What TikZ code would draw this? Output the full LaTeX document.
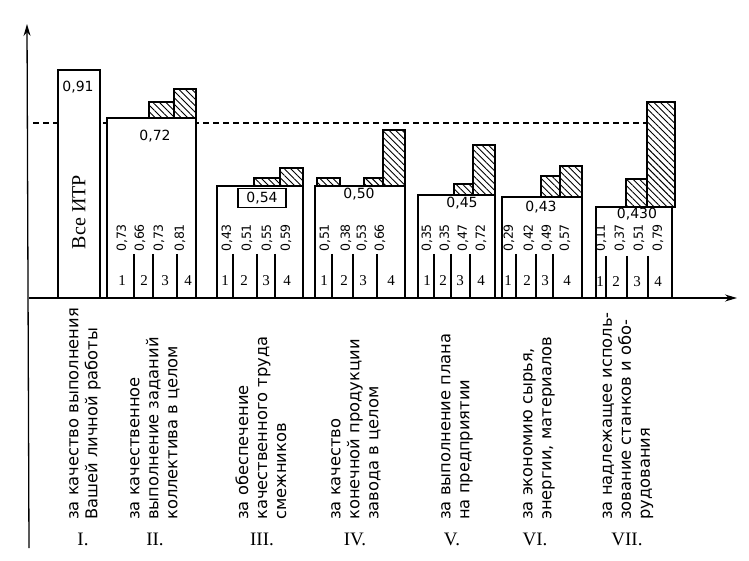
\documentclass[tikz,border=0pt]{standalone}
\usepackage{fontspec}
\setmainfont{Liberation Serif}
\setsansfont{DejaVu Sans}
\usetikzlibrary{arrows.meta,patterns.meta}

\begin{document}
\begin{tikzpicture}[x=1pt,y=-1pt,
  barbox/.style={draw=black,fill=white,line width=1.3pt},
  hatchbox/.style={draw=black,line width=1.3pt,preaction={fill=white},
                   pattern={Lines[angle=-45,distance=4.6pt,line width=0.9pt]}},
  subline/.style={draw=black,line width=1.3pt},
  axisline/.style={draw=black,line width=1.3pt,-{Stealth[length=12pt,width=7pt]}},
  mainval/.style={font=\sffamily\fontsize{14}{16}\selectfont,inner sep=1pt},
  subval/.style={font=\sffamily\fontsize{12.5}{14}\selectfont,rotate=90,inner sep=1pt},
  subnum/.style={font=\fontsize{15}{17}\selectfont,inner sep=1pt},
  catlabel/.style={font=\sffamily\fontsize{16.3}{19}\selectfont,rotate=90,
                   anchor=west,align=left,inner sep=0pt},
  roman/.style={font=\fontsize{19}{21}\selectfont,inner sep=1pt}
]
\useasboundingbox (0,0) rectangle (749,561);

% ---- Axes and reference level -------------------------------
\coordinate (o) at (29,298);
\coordinate (ybot) at (29,548);
\coordinate (ytop) at (27,24);
\coordinate (xend) at (737,298);
\coordinate (lvlL) at (33,123);
\coordinate (lvlR) at (648,123);
\draw[line width=1.2pt,dash pattern=on 6pt off 4pt] (lvlL) -- (lvlR);
\draw[axisline] (ybot) -- (ytop);
\draw[axisline] (o) -- (xend);

% ---- I: all engineers ---------------------------------------
\draw[barbox] (58,298) rectangle (100,70);
\node[mainval] (m1) at (78,87) {0,91};
\node[font=\fontsize{20}{22}\selectfont,rotate=90] (itr) at (79,212) {Все ИТР};

% ---- II -----------------------------------------------------
\draw[barbox] (107,298) rectangle (196,118);
\draw[hatchbox] (149,118) rectangle (174,102);
\draw[hatchbox] (174,118) rectangle (196,89);
\node[mainval] (m2) at (155,136) {0,72};
\foreach \x in {134,153,177} \draw[subline] (\x,254) -- (\x,298);
\foreach \v/\x [count=\i] in {0{,}73/122,0{,}66/140,0{,}73/159,0{,}81/180}
  \node[subval] (s2-\i) at (\x,238) {\v};
\foreach \x [count=\i] in {122,144,165,188}
  \node[subnum] (n2-\i) at (\x,281) {\i};

% ---- III ----------------------------------------------------
\draw[barbox] (217,298) rectangle (303,186);
\draw[hatchbox] (254,186) rectangle (280,178);
\draw[hatchbox] (280,186) rectangle (303,168);
\node[mainval,draw=black,line width=1.3pt,minimum width=48pt,minimum height=19pt]
  (m3) at (262,198) {0,54};
\foreach \x in {233,257,275} \draw[subline] (\x,254) -- (\x,298);
\foreach \v/\x [count=\i] in {0{,}43/227,0{,}51/247,0{,}55/267,0{,}59/286}
  \node[subval] (s3-\i) at (\x,238) {\v};
\foreach \x [count=\i] in {225,244,266,287}
  \node[subnum] (n3-\i) at (\x,281) {\i};

% ---- IV -----------------------------------------------------
\draw[barbox] (315,298) rectangle (405,186);
\draw[hatchbox] (317,186) rectangle (340,178);
\draw[hatchbox] (364,186) rectangle (383,178);
\draw[hatchbox] (383,186) rectangle (405,130);
\node[mainval] (m4) at (359,194) {0,50};
\foreach \x in {332,353,377} \draw[subline] (\x,254) -- (\x,298);
\foreach \v/\x [count=\i] in {0{,}51/325,0{,}38/346,0{,}53/362,0{,}66/380}
  \node[subval] (s4-\i) at (\x,238) {\v};
\foreach \x [count=\i] in {324,344,363,391}
  \node[subnum] (n4-\i) at (\x,281) {\i};

% ---- V ------------------------------------------------------
\draw[barbox] (418,298) rectangle (495,195);
\draw[hatchbox] (454,195) rectangle (473,184);
\draw[hatchbox] (473,195) rectangle (495,145);
\node[mainval] (m5) at (462,203) {0,45};
\foreach \x in {434,451,470} \draw[subline] (\x,254) -- (\x,298);
\foreach \v/\x [count=\i] in {0{,}35/427,0{,}35/445,0{,}47/463,0{,}72/481}
  \node[subval] (s5-\i) at (\x,238) {\v};
\foreach \x [count=\i] in {427,443,460,481}
  \node[subnum] (n5-\i) at (\x,281) {\i};

% ---- VI -----------------------------------------------------
\draw[barbox] (502,298) rectangle (582,197);
\draw[hatchbox] (541,197) rectangle (560,176);
\draw[hatchbox] (560,197) rectangle (582,166);
\node[mainval] (m6) at (541,207) {0,43};
\foreach \x in {516,536,553} \draw[subline] (\x,254) -- (\x,298);
\foreach \v/\x [count=\i] in {0{,}29/509,0{,}42/529,0{,}49/547,0{,}57/565}
  \node[subval] (s6-\i) at (\x,238) {\v};
\foreach \x [count=\i] in {508,527,545,567}
  \node[subnum] (n6-\i) at (\x,281) {\i};

% ---- VII ----------------------------------------------------
\draw[barbox] (596,298) rectangle (672,207);
\draw[hatchbox] (626,207) rectangle (647,179);
\draw[hatchbox] (647,207) rectangle (675,102);
\node[mainval] (m7) at (637,214) {0,430};
\foreach \x in {606,627,648} \draw[subline] (\x,256) -- (\x,298);
\foreach \v/\x [count=\i] in {0{,}11/601,0{,}37/620,0{,}51/639,0{,}79/658}
  \node[subval] (s7-\i) at (\x,238) {\v};
\foreach \x [count=\i] in {600,616,637,658}
  \node[subnum] (n7-\i) at (\x,282) {\i};

% ---- Category labels ----------------------------------------
\node[catlabel] (c1) at (85,520) {за качество выполнения\\Вашей личной работы};
\node[catlabel] (c2) at (155,520) {за качественное\\выполнение заданий\\коллектива в целом};
\node[catlabel] (c3) at (261,520) {за обеспечение\\качественного труда\\смежников};
\node[catlabel] (c4) at (356,520) {за качество\\конечной продукции\\завода в целом};
\node[catlabel] (c5) at (457,520) {за выполнение плана\\на предприятии};
\node[catlabel] (c6) at (539,520) {за экономию сырья,\\энергии, материалов};
\node[catlabel] (c7) at (628,520) {за надлежащее исполь-\\зование станков и обо-\\рудования};

\node[roman] (r1) at (83,539) {I.};
\node[roman] (r2) at (155,539) {II.};
\node[roman] (r3) at (262,539) {III.};
\node[roman] (r4) at (355,539) {IV.};
\node[roman] (r5) at (452,539) {V.};
\node[roman] (r6) at (535,539) {VI.};
\node[roman] (r7) at (627,539) {VII.};

\end{tikzpicture}
\end{document}
